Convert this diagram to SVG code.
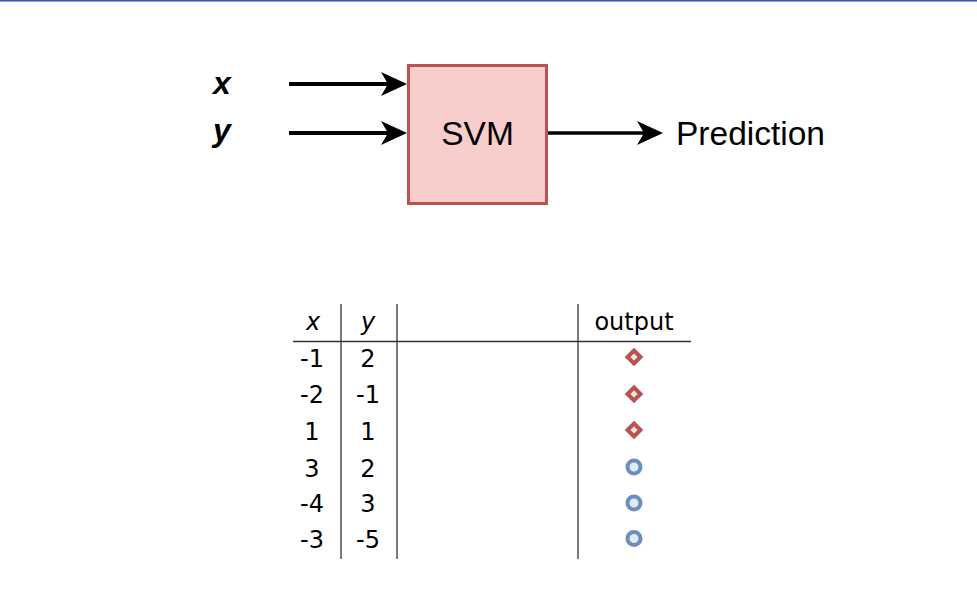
<svg xmlns="http://www.w3.org/2000/svg" width="977" height="610" viewBox="0 0 977 610">
<defs>
<style>
.lbl{font-family:"Liberation Sans",Arial,sans-serif;font-size:33.5px;fill:#000}
.var{font-family:"Liberation Sans",Arial,sans-serif;font-size:32px;font-style:italic;font-weight:bold;fill:#000}
.tt{font-family:"DejaVu Sans","Liberation Sans",sans-serif;font-size:24px;fill:#000;text-anchor:middle}
.it{font-style:italic}
.conn{stroke:#000;stroke-width:4;fill:none;marker-end:url(#ah)}
.grid{stroke:#333;stroke-width:1.3;fill:none}
.dia{fill:#f6e3e2;stroke:#b85450;stroke-width:4}
.circ{fill:#e2eaf5;stroke:#6c8ebf;stroke-width:4}
</style>
<marker id="ah" markerUnits="userSpaceOnUse" viewBox="0 0 26 24" refX="11" refY="12" markerWidth="26" markerHeight="24" orient="auto">
<path d="M0,0 L26,12 L0,24 L7,12 Z" fill="#000"/>
</marker>
</defs>
<rect x="0" y="0" width="977" height="610" fill="#fff"/>
<rect x="0" y="0" width="977" height="1.6" fill="#4a55c4"/>

<g id="connectors">
<line class="conn" x1="289" y1="84" x2="392" y2="84"/>
<line class="conn" x1="289" y1="133" x2="392" y2="133"/>
<line class="conn" x1="548" y1="133" x2="648" y2="133" style="stroke-width:3.5"/>
</g>

<g id="label-x"><text class="var" x="213" y="94">x</text></g>
<g id="label-y"><text class="var" x="213" y="141">y</text></g>
<g id="svm">
<rect x="408.5" y="65.5" width="138" height="138" fill="#f8cecc" stroke="#b85450" stroke-width="3"/>
<text class="lbl" x="477.5" y="145" text-anchor="middle">SVM</text>
</g>
<g id="prediction"><text class="lbl" x="676" y="145">Prediction</text></g>

<g id="table">
<line class="grid" x1="341" y1="304" x2="341" y2="559"/>
<line class="grid" x1="397" y1="304" x2="397" y2="559"/>
<line class="grid" x1="578" y1="304" x2="578" y2="559"/>
<line class="grid" x1="293" y1="341.5" x2="691" y2="341.5"/>
<text class="tt it" x="313" y="330">x</text>
<text class="tt it" x="368" y="330">y</text>
<text class="tt" x="634" y="330">output</text>

<text class="tt" x="312" y="367">-1</text><text class="tt" x="368" y="367">2</text>
<text class="tt" x="312" y="403">-2</text><text class="tt" x="368" y="403">-1</text>
<text class="tt" x="312" y="440">1</text><text class="tt" x="368" y="440">1</text>
<text class="tt" x="312" y="477">3</text><text class="tt" x="368" y="477">2</text>
<text class="tt" x="312" y="512">-4</text><text class="tt" x="368" y="512">3</text>
<text class="tt" x="312" y="548">-3</text><text class="tt" x="368" y="548">-5</text>

<path class="dia" d="M634,350.5 L640.5,357 L634,363.5 L627.5,357 Z"/>
<path class="dia" d="M634,387.5 L640.5,394 L634,400.5 L627.5,394 Z"/>
<path class="dia" d="M634,423.5 L640.5,430 L634,436.5 L627.5,430 Z"/>
<circle class="circ" cx="634" cy="467" r="6.5"/>
<circle class="circ" cx="634" cy="503" r="6.5"/>
<circle class="circ" cx="634" cy="538.5" r="6.5"/>
</g>
</svg>
